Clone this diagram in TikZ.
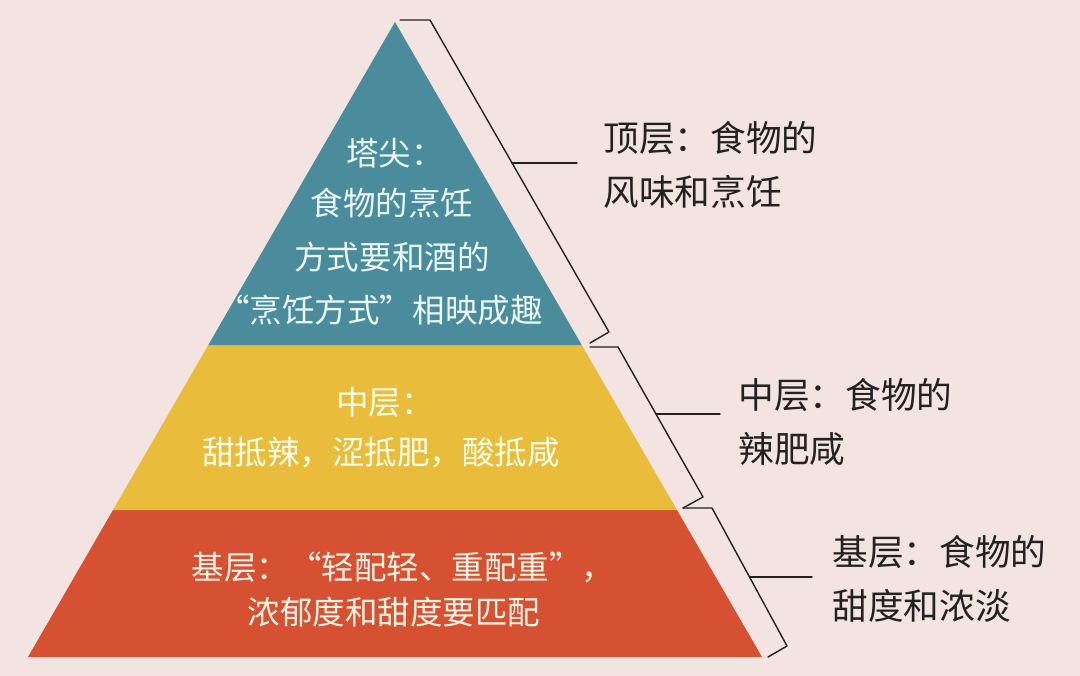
\documentclass[tikz,border=0pt]{standalone}
\usepackage{fontspec}
\setmainfont{Noto Sans CJK SC}
\definecolor{bgpink}{HTML}{F3E4E1}
\definecolor{tealtop}{HTML}{4A8C9B}
\definecolor{yellowmid}{HTML}{EABC3C}
\definecolor{redbase}{HTML}{D65032}
\definecolor{inktext}{HTML}{222222}
\tikzset{
  intext/.style={font=\fontsize{18.5}{22}\selectfont, inner sep=0pt},
  sidetext/.style={font=\fontsize{20.3}{30.5}\selectfont, text=inktext,
    align=left, anchor=west, inner sep=0pt},
  bracket/.style={draw=inktext, line width=0.8pt}
}
\begin{document}
\begin{tikzpicture}[
  x=0.02cm, y=-0.02cm,
  line cap=round,
  line join=round
]
  \fill[bgpink] (0,0) rectangle (1080,676);
  \useasboundingbox (0,0) rectangle (1080,676);

  % Вершины пирамиды
  \coordinate (P)  at (395,22);
  \coordinate (L)  at (28,657);
  \coordinate (R)  at (762,657);
  \coordinate (L1) at (208.3,345);
  \coordinate (R1) at (581.7,345);
  \coordinate (L2) at (113,510);
  \coordinate (R2) at (677,510);

  % Слои
  \fill[redbase] (L)--(R)--(R2)--(L2)--cycle;
  \fill[yellowmid] (L2)--(R2)--(R1)--(L1)--cycle;
  \fill[tealtop] (L1)--(R1)--(P)--cycle;

  % Скобки
  \coordinate (A0) at (400,20);
  \coordinate (A1) at (430,20);
  \coordinate (A2) at (609,332);
  \coordinate (A3) at (590,343);
  \coordinate (AM) at (512,163);
  \coordinate (AE) at (577,163);

  \coordinate (B0) at (590,347);
  \coordinate (B1) at (618,347);
  \coordinate (B2) at (703,497);
  \coordinate (B3) at (683,508);
  \coordinate (BM) at (656,414);
  \coordinate (BE) at (720,414);

  \coordinate (C0) at (683,508);
  \coordinate (C1) at (712,508);
  \coordinate (C2) at (787,646);
  \coordinate (C3) at (768,657);
  \coordinate (CM) at (749.5,577);
  \coordinate (CE) at (812,577);

  \draw[bracket] (A0)--(A1)--(A2)--(A3);
  \draw[bracket] (B0)--(B1)--(B2)--(B3);
  \draw[bracket] (C0)--(C1)--(C2)--(C3);

  % Надписи в пирамиде
  \node[intext, text=cyan!8] (tip1) at (395,153) {塔尖：};
  \node[intext, text=cyan!8] (tip2) at (392,203) {食物的烹饪};
  \node[intext, text=cyan!8] (tip3) at (392,257) {方式要和酒的};
  \node[intext, text=cyan!8] (tip4) at (380,310) {“烹饪方式”相映成趣};

  \node[intext, text=yellow!10] (mid1) at (385,402) {中层：};
  \node[intext, text=yellow!10] (mid2) at (381,452) {甜抵辣，涩抵肥，酸抵咸};

  \node[intext, text=orange!10] (base1) at (403,567) {基层：“轻配轻、重配重”，};
  \node[intext, text=orange!10] (base2) at (394,612) {浓郁度和甜度要匹配};

  % Надписи справа
  \node[sidetext] (toplabel)  at (603,165) {顶层：食物的\\风味和烹饪};
  \node[sidetext] (midlabel)  at (738,422) {中层：食物的\\辣肥咸};
  \node[sidetext] (baselabel) at (832,579) {基层：食物的\\甜度和浓淡};

  \draw[bracket] (AM) -- (AE);
  \draw[bracket] (BM) -- (BE);
  \draw[bracket] (CM) -- (CE);
\end{tikzpicture}
\end{document}
